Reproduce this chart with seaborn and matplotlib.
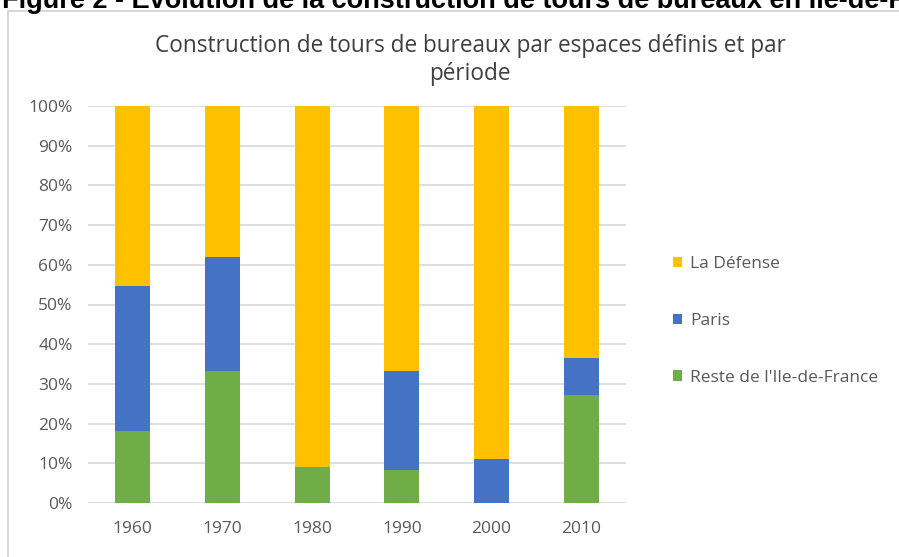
import matplotlib
matplotlib.use("Agg")
import matplotlib.pyplot as plt
import seaborn as sns
import pandas as pd
import numpy as np
from matplotlib.patches import Patch, Rectangle

periods = ["1960", "1970", "1980", "1990", "2000", "2010"]
reste = [18.2, 33.3, 9.1, 8.3, 0.0, 27.3]
paris = [36.4, 28.6, 0.0, 25.0, 11.1, 9.1]
defense = [45.4, 38.1, 90.9, 66.7, 88.9, 63.6]
series_names = ["La Défense", "Paris", "Reste de l'Ile-de-France"]
colors = {"La Défense": "#FFC000", "Paris": "#4472C4", "Reste de l'Ile-de-France": "#70AD47"}
yticks = [0, 10, 20, 30, 40, 50, 60, 70, 80, 90, 100]

sns.set_theme(style="white")
plt.rcParams["font.family"] = ["Open Sans", "DejaVu Sans"]

fig = plt.figure(figsize=(8.99, 5.57), dpi=100)
ax = fig.add_axes([88 / 899, 54 / 557, 538 / 899, 397 / 557])

df = pd.DataFrame({"period": periods, "reste": reste, "paris": paris, "defense": defense})
df["c_reste"] = df["reste"]
df["c_paris"] = df["reste"] + df["paris"]
df["c_def"] = df["c_paris"] + df["defense"]

for col, name in [("c_def", "La Défense"), ("c_paris", "Paris"), ("c_reste", "Reste de l'Ile-de-France")]:
    sns.barplot(data=df, x="period", y=col, color=colors[name], width=0.39,
                saturation=1, ax=ax, zorder=3, edgecolor="none")

ax.set_ylim(0, 100)
ax.set_yticks(yticks)
ax.set_yticklabels([f"{v}%" for v in yticks])
ax.yaxis.grid(True, color="#D9D9D9", linewidth=1.2, zorder=0)
ax.set_axisbelow(True)
for s in ax.spines.values():
    s.set_visible(False)
ax.set_xlabel("")
ax.set_ylabel("")
ax.tick_params(axis="both", length=0, labelsize=12.5, labelcolor="#595959")
ax.tick_params(axis="y", pad=11)
ax.tick_params(axis="x", pad=13)

handles = [Patch(facecolor=colors[n], edgecolor="none") for n in series_names]
fig.legend(handles, series_names, loc="center left", bbox_to_anchor=(657 / 899, 1 - 321 / 557),
           frameon=False, fontsize=12.5, labelcolor="#595959", labelspacing=2.35,
           handlelength=0.55, handleheight=0.55, handletextpad=0.45)

fig.text(470 / 899, 1 - 46 / 557, "Construction de tours de bureaux par espaces définis et par",
         ha="center", va="center", fontsize=16.3, color="#404040")
fig.text(470 / 899, 1 - 74 / 557, "période", ha="center", va="center", fontsize=16.3, color="#404040")

fig.text(2 / 899, 1 - 8 / 557, "Figure 2 - Evolution de la construction de tours de bureaux en Ile-de-France",
         ha="left", va="baseline", fontsize=19.5, fontweight="bold", color="black",
         family=["Liberation Sans", "DejaVu Sans"])

fig.patches.append(Rectangle((8 / 899, -0.05), 1.1, 1 - 11 / 557 + 0.05, transform=fig.transFigure,
                             fill=False, edgecolor="#D0D0D0", linewidth=1.2))

fig.savefig("out.png", dpi=100)
